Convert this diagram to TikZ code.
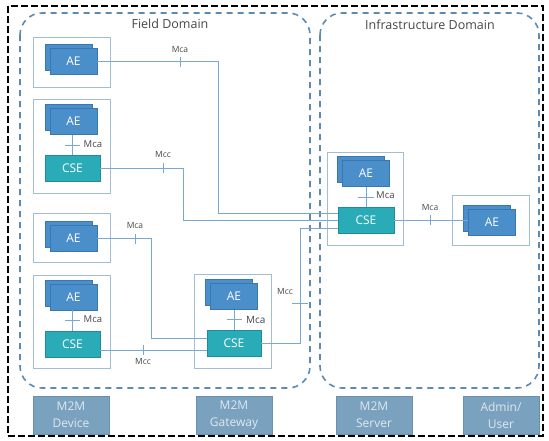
\documentclass[tikz,border=0pt]{standalone}
\usepackage{fontspec}
\setmainfont{Open Sans}
\usetikzlibrary{calc}

\definecolor{aefill}{RGB}{74,142,202}
\definecolor{aeline}{RGB}{58,118,176}
\definecolor{csefill}{RGB}{42,172,184}
\definecolor{cseline}{RGB}{30,140,156}
\definecolor{boxline}{RGB}{160,190,215}
\definecolor{linkc}{RGB}{120,168,212}
\definecolor{domc}{RGB}{92,138,176}
\definecolor{rolefill}{RGB}{122,162,190}
\definecolor{roleline}{RGB}{105,145,175}
\definecolor{roletext}{RGB}{222,232,240}
\definecolor{txt}{RGB}{70,70,70}

\tikzset{
  aeshape/.style={draw=aeline, fill=aefill, line width=0.8pt, minimum width=47pt, minimum height=26pt, inner sep=0pt},
  aetext/.style={aeshape, text=white, font=\fontsize{12}{14}\selectfont},
  csebox/.style={draw=cseline, fill=csefill, line width=0.8pt, minimum width=55pt, minimum height=26pt, inner sep=0pt, text=white, font=\fontsize{12}{14}\selectfont},
  devbox/.style={draw=boxline, line width=1pt, inner sep=0pt},
  rolebox/.style={draw=roleline, fill=rolefill, line width=0.8pt, minimum width=76pt, minimum height=38pt, inner sep=0pt, text=roletext, align=center, font=\fontsize{12}{17}\selectfont},
  domframe/.style={draw=domc, line width=1.6pt, dash pattern=on 6pt off 5pt, rounded corners=22pt},
  link/.style={draw=linkc, line width=1pt},
  tickmark/.style={draw=linkc, line width=1pt},
  lbl/.style={text=txt, inner sep=0pt, font=\fontsize{8.5}{10}\selectfont},
  lblbig/.style={text=txt, inner sep=0pt, font=\fontsize{9.5}{11}\selectfont},
  domtitle/.style={text=txt, inner sep=0pt, font=\fontsize{12.5}{15}\selectfont},
}

\begin{document}
\begin{tikzpicture}[x=1pt, y=-1pt]
\useasboundingbox (0,0) rectangle (549,440);

% outer frame
\draw[black, line width=2.6pt, dash pattern=on 7pt off 3pt] (8,6) rectangle (543,436);

% domains
\draw[domframe] (20,13) rectangle (310,388);
\draw[domframe] (320,13) rectangle (539,388);
\node[domtitle] (fdt) at (170,24) {Field Domain};
\node[domtitle] (idt) at (430,25) {Infrastructure Domain};

% enclosing boxes of the nodes
\node[devbox, minimum width=77pt, minimum height=50pt] (box1) at (71.5,62) {};
\node[devbox, minimum width=77pt, minimum height=94pt] (box2) at (71.5,146) {};
\node[devbox, minimum width=77pt, minimum height=49pt] (box3) at (71.5,237.5) {};
\node[devbox, minimum width=77pt, minimum height=93pt] (box4) at (71.5,321.5) {};
\node[devbox, minimum width=77pt, minimum height=94pt] (boxg) at (232.5,321) {};
\node[devbox, minimum width=76pt, minimum height=93pt] (boxs) at (365,198.5) {};
\node[devbox, minimum width=77pt, minimum height=50pt] (boxa) at (490.5,220) {};

% application entities (stacked pairs)
\node[aeshape] (ae1b) at (68.5,57.5) {};
\node[aetext]  (ae1)  at (73.5,61.5) {AE};
\node[aeshape] (ae2b) at (68.5,117.5) {};
\node[aetext]  (ae2)  at (73.5,121.5) {AE};
\node[aeshape] (ae3b) at (68.5,234.5) {};
\node[aetext]  (ae3)  at (73.5,238.5) {AE};
\node[aeshape] (ae4b) at (68.5,293) {};
\node[aetext]  (ae4)  at (73.5,297) {AE};
\node[aeshape] (aegb) at (229,292.5) {};
\node[aetext]  (aeg)  at (234,296.5) {AE};
\node[aeshape] (aesb) at (361,169.5) {};
\node[aetext]  (aes)  at (366,173.5) {AE};
\node[aeshape] (aeab) at (487,218) {};
\node[aetext]  (aea)  at (492,222) {AE};

% common services entities
\node[csebox] (cse2) at (72.5,168) {CSE};
\node[csebox] (cse4) at (72.5,344) {CSE};
\node[csebox, minimum width=54pt] (cseg) at (234,343) {CSE};
\node[csebox, minimum width=56pt] (cses) at (366,220) {CSE};

% Mca between AE and CSE inside a node
\draw[link] (cse2.north) -- (cse2.north |- ae2.south);
\draw[tickmark] ($(cse2.north)+(-7.5,-9)$) -- ++(15,0);
\node[lblbig, anchor=west] (m2) at ($(cse2.north)+(11,-10)$) {Mca};

\draw[link] (cse4.north) -- (cse4.north |- ae4.south);
\draw[tickmark] ($(cse4.north)+(-7.5,-10)$) -- ++(15,0);
\node[lblbig, anchor=west] (m4) at ($(cse4.north)+(11,-11)$) {Mca};

\draw[link] (cseg.north) -- (cseg.north |- aeg.south);
\draw[tickmark] ($(cseg.north)+(-7.5,-10)$) -- ++(15,0);
\node[lblbig, anchor=west, font=\fontsize{10}{12}\selectfont] (mg) at ($(cseg.north)+(12,-10)$) {Mca};

\draw[link] (cses.north) -- (cses.north |- aes.south);
\draw[tickmark] ($(cses.north)+(-8,-9)$) -- ++(16,0);
\node[lblbig, anchor=west] (ms) at ($(cses.north)+(10,-11)$) {Mca};

% bend points of the long links
\coordinate (b1) at (218,0);
\coordinate (b2) at (183,0);
\coordinate (b3) at (151,0);
\coordinate (b5) at (300,0);
\coordinate (s1) at ($(cses.west)+(0,-7)$);
\coordinate (s2) at ($(cses.west)+(0,0.5)$);
\coordinate (s3) at ($(cses.west)+(0,8)$);
\coordinate (g1) at ($(cseg.west)+(0,-5)$);
\coordinate (g2) at ($(cseg.west)+(0,7)$);
\coordinate (e3) at ($(ae3.east)+(0,0)$);
\coordinate (e4) at ($(cse4.east)+(0,6)$);

% links
\draw[link] (ae1.east) -- (ae1.east -| b1) -- (b1 |- s1) -- (s1);
\draw[link] (cse2.east) -- (cse2.east -| b2) -- (b2 |- s2) -- (s2);
\draw[link] (e3) -- (e3 -| b3) -- (b3 |- g1) -- (g1);
\draw[link] (e4) -- (g2);
\draw[link] (cseg.east) -- (cseg.east -| b5) -- (b5 |- s3) -- (s3);
\draw[link] (cses.east) -- (aea.west |- cses.east);

% interface ticks and labels on the links
\coordinate (t1) at (180,0);
\draw[tickmark] ($(t1 |- ae1.east)+(0,-5)$) -- ++(0,10);
\node[lbl] (l1) at ($(t1 |- ae1.east)+(0,-12)$) {Mca};

\coordinate (t2) at (163,0);
\draw[tickmark] ($(t2 |- cse2.east)+(0,-5)$) -- ++(0,10);
\node[lbl] (l2) at ($(t2 |- cse2.east)+(0,-13)$) {Mcc};

\coordinate (t3) at (135,0);
\draw[tickmark] ($(t3 |- e3)+(0,-5)$) -- ++(0,10);
\node[lbl] (l3) at ($(t3 |- e3)+(0,-13)$) {Mca};

\coordinate (t4) at (143,0);
\draw[tickmark] ($(t4 |- e4)+(0,-5)$) -- ++(0,10);
\node[lbl] (l4) at ($(t4 |- e4)+(0,11)$) {Mcc};

\coordinate (t5) at (0,303);
\draw[tickmark] ($(b5 |- t5)+(-8,0)$) -- ++(16,0);
\node[lbl] (l5) at ($(b5 |- t5)+(-15,-11)$) {Mcc};

\coordinate (t6) at (430,0);
\draw[tickmark] ($(t6 |- cses.east)+(0,-5)$) -- ++(0,10);
\node[lbl] (l6) at ($(t6 |- cses.east)+(0,-12)$) {Mca};

% roles along the bottom
\node[rolebox] (rdev) at (71,415) {M2M\\Device};
\node[rolebox] (rgw)  at (234,415) {M2M\\Gateway};
\node[rolebox] (rsrv) at (374,415) {M2M\\Server};
\node[rolebox] (radm) at (501,415) {Admin/\\User};
\end{tikzpicture}
\end{document}
